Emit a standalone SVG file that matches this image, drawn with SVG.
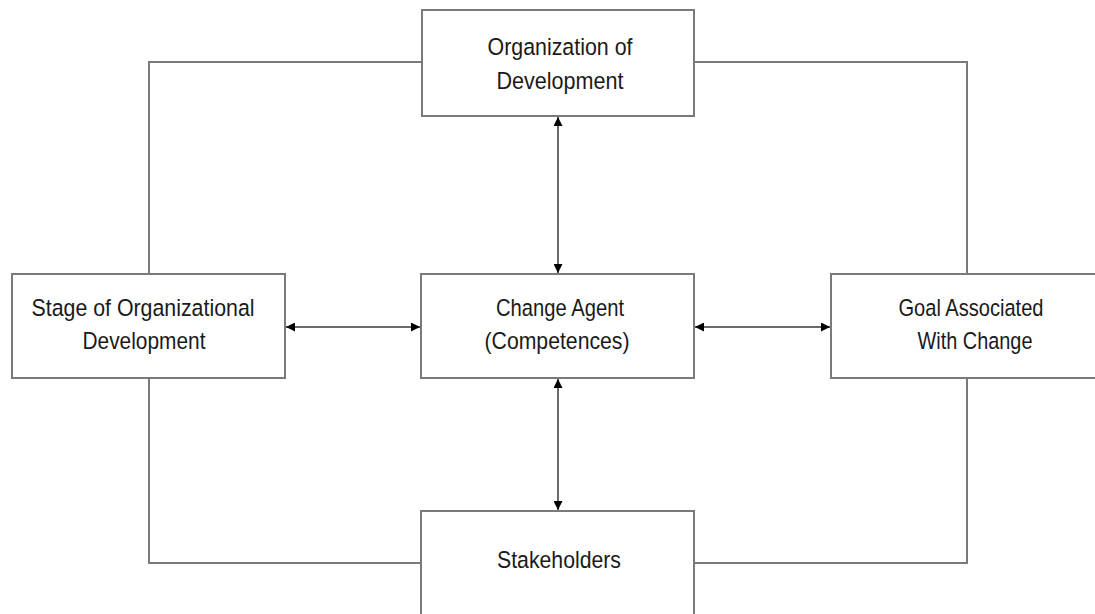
<svg xmlns="http://www.w3.org/2000/svg" width="1095" height="614" viewBox="0 0 1095 614">
<style>
.box{fill:#fff;stroke:#7a7a7a;stroke-width:2}
.ln{fill:none;stroke:#7a7a7a;stroke-width:2}
.ar{fill:none;stroke:#6a6a6a;stroke-width:2}
text{font-family:"Liberation Sans",Arial,sans-serif;font-size:24.5px;fill:#1a1a1a;text-anchor:middle}
</style>
<defs>
<marker id="ah" viewBox="0 0 10 10" refX="10" refY="5" markerWidth="6.5" markerHeight="4.5" orient="auto-start-reverse" markerUnits="strokeWidth">
<path d="M0,0 L10,5 L0,10 Z" fill="#000"/>
</marker>
</defs>
<rect width="1095" height="614" fill="#fff"/>
<g id="connectors">
<path class="ln" d="M422,62 H149 V274"/>
<path class="ln" d="M694,62 H967 V274"/>
<path class="ln" d="M149,378 V563 H421"/>
<path class="ln" d="M967,378 V563 H694"/>
<line class="ar" x1="286" y1="327" x2="420" y2="327" marker-start="url(#ah)" marker-end="url(#ah)"/>
<line class="ar" x1="695" y1="327" x2="830" y2="327" marker-start="url(#ah)" marker-end="url(#ah)"/>
<line class="ar" x1="558" y1="117" x2="558" y2="273" marker-start="url(#ah)" marker-end="url(#ah)"/>
<line class="ar" x1="558" y1="379" x2="558" y2="510" marker-start="url(#ah)" marker-end="url(#ah)"/>
</g>
<g id="organization">
<rect class="box" x="422" y="10" width="272" height="106"/>
<text x="560" y="55" textLength="145" lengthAdjust="spacingAndGlyphs">Organization of</text>
<text x="560" y="89" textLength="127" lengthAdjust="spacingAndGlyphs">Development</text>
</g>
<g id="stage">
<rect class="box" x="12" y="274" width="273" height="104"/>
<text x="143" y="316" textLength="223" lengthAdjust="spacingAndGlyphs">Stage of Organizational</text>
<text x="144" y="349" textLength="123" lengthAdjust="spacingAndGlyphs">Development</text>
</g>
<g id="agent">
<rect class="box" x="421" y="274" width="273" height="104"/>
<text x="560" y="316" textLength="128" lengthAdjust="spacingAndGlyphs">Change Agent</text>
<text x="557" y="349" textLength="145" lengthAdjust="spacingAndGlyphs">(Competences)</text>
</g>
<g id="goal">
<rect class="box" x="831" y="274" width="280" height="104"/>
<text x="971" y="316" textLength="145" lengthAdjust="spacingAndGlyphs">Goal Associated</text>
<text x="975" y="349" textLength="115" lengthAdjust="spacingAndGlyphs">With Change</text>
</g>
<g id="stakeholders">
<rect class="box" x="421" y="511" width="273" height="120"/>
<text x="559" y="568" textLength="124" lengthAdjust="spacingAndGlyphs">Stakeholders</text>
</g>
</svg>
